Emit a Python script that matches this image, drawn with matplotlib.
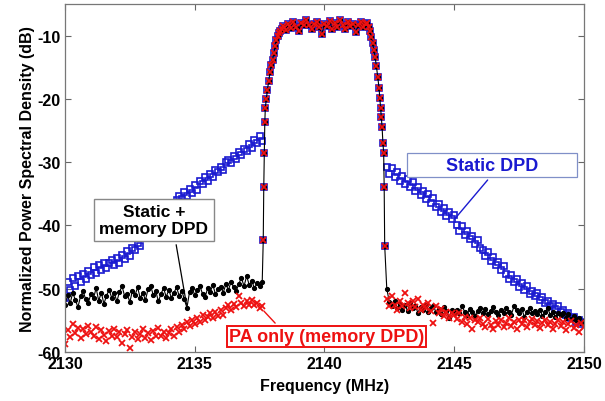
import numpy as np
import matplotlib
matplotlib.use("Agg")
import matplotlib.pyplot as plt

plt.rcParams['font.family'] = ['Liberation Sans', 'DejaVu Sans']
plt.rcParams['font.weight'] = 'bold'
plt.rcParams['axes.unicode_minus'] = False

# lower adjacent channel, 0.1 MHz steps from 2130.0 to 2137.6
left_start, left_stop = 2130.0, 2137.6
# upper adjacent channel, 0.1 MHz steps from 2142.4 to 2150.0
right_start, right_stop = 2142.4, 2150.0

static_left = [
    -51.5, -49.0, -50.2, -48.3, -49.5, -48.0, -48.9, -47.6, -48.4, -47.2,
    -47.8, -46.6, -47.5, -46.2, -47.0, -45.9, -46.8, -46.0, -45.4, -46.3,
    -45.2, -46.0, -44.6, -45.3, -44.0, -44.8, -43.5, -43.9, -42.8, -43.2,
    -42.0, -41.6, -41.2, -40.5, -40.9, -39.6, -39.0, -39.4, -38.3, -37.9,
    -37.2, -37.6, -36.4, -36.0, -35.4, -35.8, -34.7, -35.3, -34.2, -34.8,
    -33.6, -34.4, -33.0, -33.5, -32.3, -32.9, -31.8, -32.4, -31.2, -31.6,
    -30.8, -31.3, -30.0, -29.6, -30.2, -29.0, -29.5, -28.4, -28.9, -27.9,
    -28.3, -27.2, -27.7, -26.5, -27.0, -25.9, -26.6]
memory_left = [
    -52.6, -51.0, -52.3, -50.6, -51.8, -52.9, -51.2, -50.4, -51.7, -52.2,
    -50.8, -51.5, -49.9, -51.9, -50.6, -52.4, -51.1, -50.2, -51.4, -50.7,
    -52.0, -50.5, -49.6, -51.2, -50.9, -52.1, -50.3, -51.0, -49.8, -51.5,
    -50.6, -51.8, -50.1, -49.5, -51.0, -50.4, -52.0, -50.8, -49.9, -51.3,
    -50.2, -51.4, -50.6, -49.8, -51.1, -50.3, -51.7, -53.0, -50.5, -49.9,
    -51.0, -50.2, -49.6, -50.8, -51.3, -49.9, -50.5, -49.4, -50.9, -50.1,
    -49.7, -50.6, -49.3, -50.2, -48.9, -49.8, -50.4, -49.2, -48.3, -49.6,
    -48.0, -49.4, -48.8, -49.9, -49.1, -49.5, -49.0]
pa_left = [
    -58.8, -56.5, -57.6, -55.6, -57.0, -56.2, -57.8, -56.4, -57.1, -55.9,
    -56.8, -57.5, -56.1, -57.9, -56.6, -57.3, -58.2, -56.7, -57.4, -56.3,
    -57.7, -56.9, -58.6, -57.2, -56.5, -59.3, -57.6, -56.8, -57.9, -57.1,
    -56.4, -57.8, -57.0, -58.1, -56.7, -57.4, -56.2, -57.5, -56.9, -57.8,
    -57.0, -56.3, -57.4, -56.1, -56.8, -55.7, -56.4, -55.3, -55.9, -55.0,
    -55.6, -54.7, -55.3, -54.2, -55.0, -54.4, -53.8, -54.6, -53.6, -54.3,
    -53.4, -54.1, -53.0, -52.6, -53.3, -52.4, -52.9, -51.2, -52.2, -52.7,
    -52.0, -52.5, -51.8, -52.6, -52.2, -53.0, -52.7]

# main channel (shared by all three cases)
band_freq = [
    2137.64, 2137.66, 2137.68, 2137.70, 2137.72, 2137.76, 2137.80, 2137.85,
    2137.90, 2137.95, 2138.00, 2138.05, 2138.10, 2138.15, 2138.20, 2138.25,
    2138.30, 2138.35,
    2138.4, 2138.5, 2138.6, 2138.7, 2138.8, 2138.9, 2139.0, 2139.1, 2139.2, 2139.3,
    2139.4, 2139.5, 2139.6, 2139.7, 2139.8, 2139.9, 2140.0, 2140.1, 2140.2, 2140.3,
    2140.4, 2140.5, 2140.6, 2140.7, 2140.8, 2140.9, 2141.0, 2141.1, 2141.2, 2141.3,
    2141.4, 2141.5, 2141.6,
    2141.65, 2141.70, 2141.75, 2141.80, 2141.85, 2141.90, 2141.95, 2142.00,
    2142.05, 2142.10, 2142.13, 2142.16, 2142.19, 2142.22, 2142.25, 2142.28,
    2142.30, 2142.32]
band_psd = [
    -42.3, -34.0, -28.5, -23.7, -21.4, -20.0, -18.6, -17.2,
    -15.8, -14.6, -13.8, -12.7, -11.6, -10.7, -10.1, -9.6,
    -9.2, -8.9,
    -8.5, -9.1, -8.2, -8.8, -7.9, -8.6, -9.3, -8.0, -8.4, -7.6,
    -8.3, -8.9, -8.1, -7.8, -8.7, -9.8, -8.2, -8.5, -7.7, -8.9,
    -8.0, -8.6, -7.5, -8.3, -9.0, -7.9, -8.5, -8.1, -9.5, -8.4,
    -7.8, -8.6, -8.1,
    -8.0, -8.6, -9.3, -10.2, -11.2, -12.2, -13.4, -14.8,
    -16.5, -18.2, -19.8, -21.5, -22.8, -24.5, -26.9, -28.5,
    -34.0, -43.2]

static_right = [
    -30.7, -31.8, -31.0, -32.4, -31.6, -32.9, -32.2,
    -33.5, -32.7, -33.9, -33.2, -34.6, -34.0, -35.2, -34.5, -35.8, -35.0,
    -36.4, -35.7, -37.1, -36.6, -37.9, -37.2, -38.5, -37.8, -39.0, -38.4,
    -39.9, -40.8, -40.1, -41.5, -40.9, -42.2, -41.6, -42.9, -42.3, -43.5,
    -43.9, -44.8, -44.2, -45.6, -45.0, -46.3, -45.7, -47.0, -46.4, -47.6,
    -48.4, -47.8, -49.0, -48.5, -49.7, -49.1, -50.2, -49.6, -50.8, -50.3,
    -51.2, -50.7, -51.8, -51.3, -52.3, -51.9, -52.7, -52.4, -53.2, -52.8,
    -53.7, -53.3, -54.2, -53.8, -54.7, -54.4, -55.2, -54.9, -55.6, -55.3]
memory_right = [
    -50.0, -52.1, -52.8, -51.9, -53.0, -52.4, -53.3,
    -52.6, -53.5, -52.2, -53.1, -52.7, -53.8, -52.9, -53.4, -52.5, -53.6,
    -53.0, -52.8, -53.7, -53.2, -54.0, -52.9, -53.5, -54.6, -53.3, -53.8,
    -53.4, -53.9, -52.8, -53.6, -54.1, -53.2, -53.7, -54.3, -53.5, -53.0,
    -53.8, -53.2, -54.0, -53.5, -52.9, -53.7, -54.2, -53.3, -53.9, -53.1,
    -53.6, -54.1, -52.8, -53.4, -53.9, -53.2, -54.4, -53.7, -53.0, -53.8,
    -53.5, -54.0, -53.3, -54.3, -53.7, -53.1, -54.1, -53.6, -54.5, -53.9,
    -54.2, -53.8, -54.6, -54.0, -54.8, -54.3, -55.0, -54.6, -55.4, -55.1]
pa_right = [
    -51.6, -52.8, -51.2, -52.5, -53.3, -51.9, -52.7,
    -50.6, -52.3, -53.1, -52.0, -52.9, -51.7, -53.4, -52.6, -53.0, -52.2,
    -53.5, -55.4, -52.8, -53.9, -53.2, -54.3, -53.6, -54.6, -53.8, -54.1,
    -54.8, -53.9, -55.2, -54.4, -55.6, -54.7, -56.3, -54.9, -55.3, -54.6,
    -55.5, -56.0, -54.8, -55.7, -56.4, -55.1, -55.8, -54.9, -56.1, -55.4,
    -54.7, -55.9, -55.2, -56.3, -54.9, -55.6, -55.0, -56.0, -55.3, -54.8,
    -55.7, -55.1, -56.2, -55.4, -54.9, -55.8, -55.2, -56.4, -55.5, -55.0,
    -55.9, -55.3, -56.5, -55.6, -55.1, -56.2, -55.7, -56.8, -55.4, -56.0]


def spectrum(left, right):
    f = np.concatenate([np.linspace(left_start, left_stop, len(left)),
                        band_freq,
                        np.linspace(right_start, right_stop, len(right))])
    p = np.concatenate([left, band_psd, right])
    return f, p


fig = plt.figure(figsize=(6.05, 4.02), dpi=100)
ax = fig.add_axes([0.1074, 0.1219, 0.8579, 0.8657])

blue = '#1a1ad0'
red = '#ee1111'

f, p = spectrum(static_left, static_right)
ax.plot(f, p, linestyle='none', marker='s', ms=4.2, mfc='none', mec=blue, mew=1.2)
f, p = spectrum(memory_left, memory_right)
ax.plot(f, p, color='black', lw=0.8, marker='.', ms=5.5)
f, p = spectrum(pa_left, pa_right)
ax.plot(f, p, linestyle='none', marker='x', ms=5, mec=red, mew=1.3)

ax.set_xlim(2130, 2150)
ax.set_ylim(-60, -5)
ax.set_xticks([2130, 2135, 2140, 2145, 2150])
ax.set_yticks([-60, -50, -40, -30, -20, -10])
ax.tick_params(direction='in', top=True, right=True, length=4, width=0.8,
               color='#666666', labelsize=11.5, pad=3)
for s in ax.spines.values():
    s.set_color('#777777')
    s.set_linewidth(0.9)

ax.set_xlabel('Frequency (MHz)', fontsize=11.5, fontweight='bold', labelpad=5)
ax.set_ylabel('Normalized Power Spectral Density (dB)', fontsize=11.5,
              fontweight='bold', labelpad=2)

ax.annotate('       Static DPD       ', xy=(2144.91, -39.5), xytext=(2146.45, -30.5),
            ha='center', va='center', fontsize=13, fontweight='bold', color=blue,
            bbox=dict(boxstyle='square,pad=0.2', fc='white', ec='#8090c8', lw=0.9),
            arrowprops=dict(arrowstyle='-', color=blue, lw=1.0, relpos=(0.506, 0)))

ax.annotate('Static +\nmemory DPD', xy=(2134.70, -52.9), xytext=(2133.43, -39.2),
            ha='center', va='center', fontsize=12.5, fontweight='bold', color='black',
            linespacing=1.15,
            bbox=dict(boxstyle='square,pad=0.3', fc='white', ec='#888888', lw=1.0),
            arrowprops=dict(arrowstyle='-', color='black', lw=0.9, relpos=(0.69, 0)))

ax.annotate('PA only (memory DPD)', xy=(2137.59, -53.2), xytext=(2140.08, -57.55),
            ha='center', va='center', fontsize=13, fontweight='bold', color=red,
            bbox=dict(boxstyle='square,pad=0.12', fc='white', ec=red, lw=1.4),
            arrowprops=dict(arrowstyle='-', color=red, lw=1.0, relpos=(0.26, 1)))

fig.savefig('out.png', dpi=100)
